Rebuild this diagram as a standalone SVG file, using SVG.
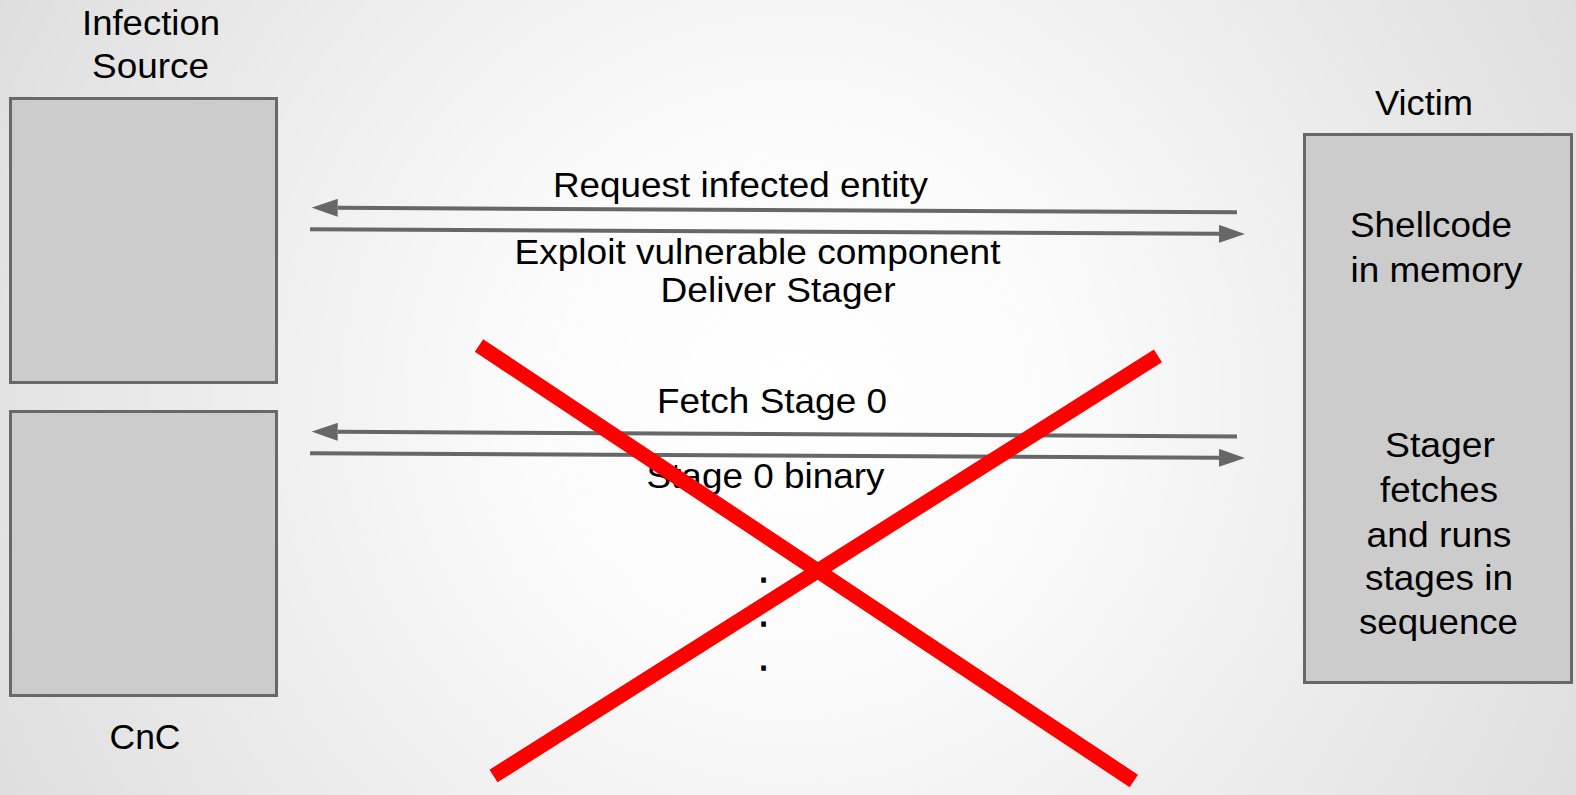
<svg xmlns="http://www.w3.org/2000/svg" width="1576" height="795" viewBox="0 0 1576 795">
  <defs>
    <radialGradient id="bg" gradientUnits="userSpaceOnUse" cx="790" cy="400" r="890">
      <stop offset="0" stop-color="#ffffff"/>
      <stop offset="0.3" stop-color="#fbfbfb"/>
      <stop offset="1" stop-color="#dedede"/>
    </radialGradient>
    <marker id="head" viewBox="0 0 26 18" refX="0" refY="9" markerWidth="26" markerHeight="18" markerUnits="userSpaceOnUse" orient="auto">
      <path d="M0,0 L26,9 L0,18 Z" fill="#676767"/>
    </marker>
    <style>
      .box { fill: #cccccc; stroke: #686868; stroke-width: 3; }
      .lbl { font-family: "Liberation Sans", Arial, sans-serif; font-size: 34.5px; fill: #000000; text-anchor: middle; }
      .dot { font-family: "Liberation Sans", Arial, sans-serif; font-size: 34.5px; fill: #000000; stroke: #000000; stroke-width: 1.3; text-anchor: middle; }
      .msg { fill: none; stroke: #676767; stroke-width: 4; }
      .cross { stroke: #ff0000; stroke-width: 15; stroke-linecap: butt; }
    </style>
  </defs>

  <!-- slide background -->
  <rect x="0" y="0" width="1576" height="795" fill="url(#bg)"/>

  <!-- attacker side: infection source -->
  <g id="node-infection-source">
    <rect class="box" x="10.5" y="98.5" width="266" height="284"/>
    <text class="lbl" x="151" y="35" textLength="138" lengthAdjust="spacingAndGlyphs">Infection</text>
    <text class="lbl" x="150.5" y="78" textLength="117" lengthAdjust="spacingAndGlyphs">Source</text>
  </g>

  <!-- attacker side: command and control -->
  <g id="node-cnc">
    <rect class="box" x="10.5" y="411.5" width="266" height="284"/>
    <text class="lbl" x="145" y="749" textLength="71" lengthAdjust="spacingAndGlyphs">CnC</text>
  </g>

  <!-- target host -->
  <g id="node-victim">
    <rect class="box" x="1304.5" y="134.5" width="267" height="548"/>
    <text class="lbl" x="1424" y="115" textLength="98" lengthAdjust="spacingAndGlyphs">Victim</text>
    <text class="lbl" x="1431" y="237" textLength="162" lengthAdjust="spacingAndGlyphs">Shellcode</text>
    <text class="lbl" x="1436.5" y="281.5" textLength="172" lengthAdjust="spacingAndGlyphs">in memory</text>
    <text class="lbl" x="1440" y="457" textLength="110" lengthAdjust="spacingAndGlyphs">Stager</text>
    <text class="lbl" x="1439" y="502" textLength="118" lengthAdjust="spacingAndGlyphs">fetches</text>
    <text class="lbl" x="1439" y="546.5" textLength="145" lengthAdjust="spacingAndGlyphs">and runs</text>
    <text class="lbl" x="1439" y="590" textLength="148" lengthAdjust="spacingAndGlyphs">stages in</text>
    <text class="lbl" x="1438.5" y="634" textLength="159" lengthAdjust="spacingAndGlyphs">sequence</text>
  </g>

  <!-- message exchanges -->
  <g id="connectors">
    <path class="msg" d="M1237,212.3 L337.7,207.83" marker-end="url(#head)"/>
    <path class="msg" d="M310,229.3 L1219,233.87" marker-end="url(#head)"/>
    <path class="msg" d="M1237,436.5 L337.7,431.83" marker-end="url(#head)"/>
    <path class="msg" d="M310,453.3 L1219,457.87" marker-end="url(#head)"/>
  </g>

  <!-- message labels -->
  <g id="labels">
    <text class="lbl" x="740.5" y="197" textLength="375" lengthAdjust="spacingAndGlyphs">Request infected entity</text>
    <text class="lbl" x="757.5" y="264" textLength="486" lengthAdjust="spacingAndGlyphs">Exploit vulnerable component</text>
    <text class="lbl" x="778" y="302" textLength="235" lengthAdjust="spacingAndGlyphs">Deliver Stager</text>
    <text class="lbl" x="772" y="412.5" textLength="230" lengthAdjust="spacingAndGlyphs">Fetch Stage 0</text>
    <text class="lbl" x="765.5" y="488" textLength="238" lengthAdjust="spacingAndGlyphs">Stage 0 binary</text>
    <!-- vertical ellipsis: further stages -->
    <text class="dot" x="763.5" y="582">.</text>
    <text class="dot" x="763.5" y="626">.</text>
    <text class="dot" x="763.5" y="670">.</text>
  </g>

  <!-- red cross over the staged sequence -->
  <g id="cross-out">
    <line class="cross" x1="479" y1="345.5" x2="1133.8" y2="781"/>
    <line class="cross" x1="1157.9" y1="355.8" x2="493.5" y2="776"/>
  </g>
</svg>
